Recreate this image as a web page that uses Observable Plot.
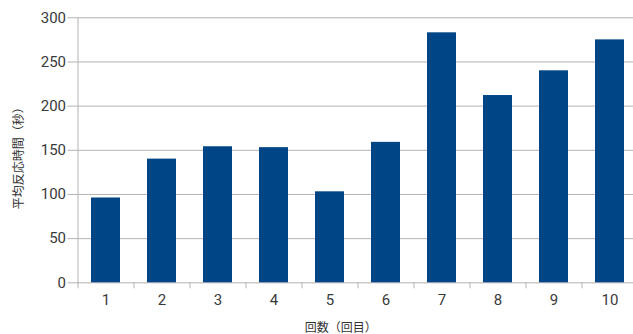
<!DOCTYPE html>
<html>
<head>
<meta charset="utf-8">
<script src="https://cdn.jsdelivr.net/npm/d3@7"></script>
<script src="https://cdn.jsdelivr.net/npm/@observablehq/plot@0.6"></script>
<style>
  html, body { margin: 0; padding: 0; background: #fff; overflow: hidden; }
</style>
</head>
<body>
<div id="chart"></div>
<script>
const rounds = ["1", "2", "3", "4", "5", "6", "7", "8", "9", "10"];
const times = [96, 140, 154, 153, 103, 159, 283, 212, 240, 275];
const yTicks = [0, 50, 100, 150, 200, 250, 300];
const xTitle = "回数（回目）";
const yTitle = "平均反応時間（秒）";

const data = rounds.map((r, i) => ({round: r, time: times[i]}));
const gridColor = "#b3b3b3";
const barColor = "#004586";
const cjkFont = "'Noto Sans CJK JP', sans-serif";
const digitFont = "Roboto, 'Noto Sans', sans-serif";

const chart = Plot.plot({
  width: 633,
  height: 334,
  marginLeft: 77.5,
  marginRight: 0,
  marginTop: 17.3,
  marginBottom: 51.7,
  style: {fontFamily: cjkFont, fontSize: "14px", color: "#333", background: "#fff"},
  x: {domain: rounds, range: [77.5, 637.5], paddingInner: 0.48, paddingOuter: 0.24, label: null},
  y: {domain: [0, 300], label: null},
  marks: [
    Plot.gridY(yTicks, {stroke: gridColor, strokeOpacity: 1}),
    Plot.axisY(yTicks, {tickSize: 10, tickPadding: 2, stroke: gridColor, label: null, fill: "#3a3a3a", fontFamily: digitFont, fontSize: 15}),
    Plot.frame({anchor: "left", stroke: gridColor}),
    Plot.ruleX(rounds, {x: d => d, y1: 0, y2: 0, dx: -28, insetBottom: -6, stroke: gridColor}),
    Plot.barY(data, {x: "round", y: "time", fill: barColor}),
    Plot.axisX({tickSize: 0, tickPadding: 12, label: null, fill: "#3a3a3a", fontFamily: digitFont, fontSize: 15}),
    Plot.text([yTitle], {text: d => d, frameAnchor: "left", textAnchor: "middle", lineAnchor: "middle", rotate: -90, dx: -58.5, dy: 5, fontSize: 12, fill: "#333", fontFamily: cjkFont}),
    Plot.text([xTitle], {text: d => d, frameAnchor: "bottom", textAnchor: "middle", lineAnchor: "middle", dx: -15, dy: 45, fontSize: 12, fill: "#333", fontFamily: cjkFont})
  ]
});
document.getElementById("chart").appendChild(chart);
</script>
</body>
</html>
